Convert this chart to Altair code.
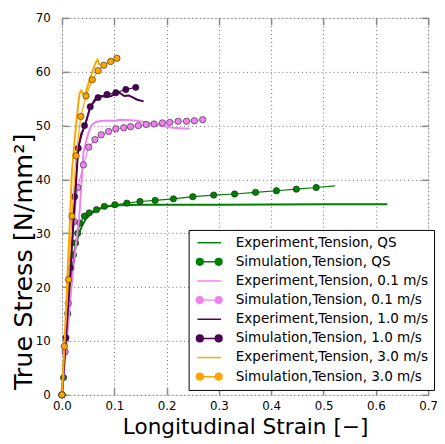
import altair as alt
import pandas as pd

# ---------------- data ----------------
qs_exp_x = [0, 0.005, 0.0126, 0.019, 0.025, 0.031, 0.0375, 0.045, 0.056, 0.07, 0.088, 0.11, 0.15, 0.2, 0.3, 0.4, 0.5, 0.622]
qs_exp_y = [0, 8.0, 21.5, 25.0, 27.0, 29.6, 31.2, 32.6, 33.7, 34.5, 35.0, 35.2, 35.3, 35.3, 35.3, 35.35, 35.4, 35.4]

qs_sim_x = [0, 0.003, 0.011, 0.022, 0.026, 0.030, 0.034, 0.043, 0.052, 0.066, 0.081, 0.101, 0.124, 0.149,
            0.178, 0.213, 0.25, 0.29, 0.33, 0.37, 0.41, 0.448, 0.486, 0.522]
qs_sim_y = [0, 3.2, 15.1, 26.0, 28.2, 30.0, 31.9, 33.2, 33.8, 34.4, 35.0, 35.3, 35.6, 35.9,
            36.1, 36.4, 36.8, 37.1, 37.3, 37.6, 37.9, 38.2, 38.5, 38.8]
qs_sim_marker = [True] * 23 + [False]

v01_exp_x = [0, 0.01, 0.02, 0.028, 0.033, 0.037, 0.041, 0.05, 0.056, 0.063, 0.075, 0.088, 0.1, 0.113,
             0.13, 0.144, 0.165, 0.188, 0.21, 0.244]
v01_exp_y = [0, 11.0, 22.0, 29.0, 33.0, 39.0, 45.0, 48.5, 50.0, 50.6, 50.9, 50.9, 50.9, 51.1,
             51.0, 50.9, 50.5, 50.0, 49.6, 49.4]

v01_sim_x = [0, 0.006, 0.012, 0.017, 0.023, 0.030, 0.041, 0.051, 0.063, 0.075, 0.089, 0.103, 0.118,
             0.131, 0.146, 0.161, 0.176, 0.192, 0.206, 0.222, 0.238, 0.253, 0.269]
v01_sim_y = [0, 8.0, 17.0, 25.0, 32.2, 38.5, 42.7, 46.0, 47.4, 48.3, 48.9, 49.4, 49.6,
             49.8, 50.0, 50.2, 50.3, 50.5, 50.6, 50.8, 50.8, 50.9, 51.1]

v10_exp_x = [0, 0.01, 0.02, 0.026, 0.031, 0.037, 0.044, 0.053, 0.063, 0.075, 0.085, 0.094, 0.102,
             0.11, 0.119, 0.128, 0.136, 0.144, 0.156]
v10_exp_y = [0, 14.0, 29.0, 38.0, 45.8, 48.5, 50.0, 53.1, 54.9, 55.5, 55.3, 55.5, 55.9,
             56.1, 55.5, 55.6, 55.2, 54.8, 54.5]

v10_sim_x = [0, 0.0075, 0.016, 0.024, 0.031, 0.043, 0.054, 0.069, 0.086, 0.103, 0.122, 0.141]
v10_sim_y = [0, 10.6, 23.6, 36.8, 45.8, 50.0, 53.5, 55.2, 55.8, 56.1, 56.7, 57.1]

v30_exp_x = [0, 0.005, 0.01, 0.015, 0.019, 0.024, 0.028, 0.031, 0.034, 0.037, 0.041, 0.044, 0.048,
             0.053, 0.058, 0.063, 0.066, 0.068, 0.072]
v30_exp_y = [0, 10.0, 21.0, 32.0, 41.5, 47.0, 51.2, 54.0, 56.1, 56.5, 55.8, 55.5, 57.0,
             58.5, 60.0, 61.4, 62.0, 62.2, 61.2]

v30_sim_x = [0, 0.0045, 0.0126, 0.019, 0.027, 0.036, 0.046, 0.058, 0.069, 0.08, 0.093, 0.105]
v30_sim_y = [0, 9.0, 21.4, 33.2, 44.4, 51.7, 55.5, 58.5, 60.2, 61.2, 61.9, 62.5]

series_names = [
    "Experiment,Tension, QS",
    "Simulation,Tension, QS",
    "Experiment,Tension, 0.1 m/s",
    "Simulation,Tension, 0.1 m/s",
    "Experiment,Tension, 1.0 m/s",
    "Simulation,Tension, 1.0 m/s",
    "Experiment,Tension, 3.0 m/s",
    "Simulation,Tension, 3.0 m/s",
]
series_colors = ["#008000", "#008000", "#EE82EE", "#EE82EE",
                 "#4B0055", "#4B0055", "#FFA500", "#FFA500"]

x_ticks = [0.0, 0.1, 0.2, 0.3, 0.4, 0.5, 0.6, 0.7]
y_ticks = [0, 10, 20, 30, 40, 50, 60, 70]

# ---------------- table ----------------
series_data = [
    (qs_exp_x, qs_exp_y, None),
    (qs_sim_x, qs_sim_y, qs_sim_marker),
    (v01_exp_x, v01_exp_y, None),
    (v01_sim_x, v01_sim_y, None),
    (v10_exp_x, v10_exp_y, None),
    (v10_sim_x, v10_sim_y, None),
    (v30_exp_x, v30_exp_y, None),
    (v30_sim_x, v30_sim_y, None),
]
rows = []
for name, (xs, ys, mk) in zip(series_names, series_data):
    for i, (xv, yv) in enumerate(zip(xs, ys)):
        rows.append({"x": xv, "y": yv, "series": name,
                     "marker": bool(mk[i]) if mk is not None else True})
df = pd.DataFrame(rows)

W, H = 373, 384
FONT = "DejaVu Sans"

xs_scale = alt.Scale(domain=[0, 0.7], nice=False, zero=False)
ys_scale = alt.Scale(domain=[0, 70], nice=False, zero=False)

base = alt.Chart(df)

# main axes (labels + dotted grid)
ax_main = base.transform_filter("false").mark_point().encode(
    x=alt.X("x:Q", scale=xs_scale, axis=alt.Axis(
        orient="bottom", values=x_ticks, format=".1f", ticks=False, tickSize=0, domain=False,
        grid=True, gridColor="#666", gridDash=[1, 3], gridWidth=1,
        labelFontSize=12, labelPadding=6, labelFlush=False, labelOverlap=False,
        title="Longitudinal Strain [\u2212]", titleFontSize=22, titleFontWeight="normal",
        titleBaseline="alphabetic", titleY=39)),
    y=alt.Y("y:Q", scale=ys_scale, axis=alt.Axis(
        orient="left", values=y_ticks, ticks=False, tickSize=0, domain=False,
        grid=True, gridColor="#666", gridDash=[1, 3], gridWidth=1,
        labelFontSize=12, labelPadding=12, labelFlush=False, labelOverlap=False,
        title="True Stress [N/mm\u00b2]", titleFontSize=26, titleFontWeight="normal",
        titleBaseline="alphabetic", titleX=-31, titleY=248)),
)
# inward ticks: bottom edge and left edge
ax_in1 = base.transform_filter("false").mark_point().encode(
    x=alt.X("x:Q", scale=xs_scale, axis=alt.Axis(
        orient="top", offset=-H, values=x_ticks, labels=False, domain=False, grid=False,
        ticks=True, tickSize=7, tickWidth=1.5, title=None)),
    y=alt.Y("y:Q", scale=ys_scale, axis=alt.Axis(
        orient="right", offset=-W, values=y_ticks, labels=False, domain=False, grid=False,
        ticks=True, tickSize=7, tickWidth=1.5, title=None)),
)
# inward ticks: top edge and right edge
ax_in2 = base.transform_filter("false").mark_point().encode(
    x=alt.X("x:Q", scale=xs_scale, axis=alt.Axis(
        orient="bottom", offset=-H, values=x_ticks, labels=False, domain=False, grid=False,
        ticks=True, tickSize=7, tickWidth=1.5, title=None)),
    y=alt.Y("y:Q", scale=ys_scale, axis=alt.Axis(
        orient="left", offset=-W, values=y_ticks, labels=False, domain=False, grid=False,
        ticks=True, tickSize=7, tickWidth=1.5, title=None)),
)

layers = [ax_main, ax_in1, ax_in2]
for name, color in zip(series_names, series_colors):
    sub = base.transform_filter(alt.datum.series == name)
    enc = dict(x=alt.X("x:Q", scale=xs_scale, axis=None),
               y=alt.Y("y:Q", scale=ys_scale, axis=None),
               order=alt.Order("x:Q"))
    if name.startswith("Experiment"):
        layers.append(sub.mark_line(color=color, strokeWidth=2).encode(**enc))
    else:
        layers.append(sub.mark_line(color=color, strokeWidth=1.2).encode(**enc))
        layers.append(sub.transform_filter(alt.datum.marker).mark_circle(
            fill=color, stroke="#222", strokeWidth=0.6, size=42,
            opacity=1, fillOpacity=1).encode(
            x=alt.X("x:Q", scale=xs_scale, axis=None),
            y=alt.Y("y:Q", scale=ys_scale, axis=None)))

# legend layer (no marks drawn, only the legend)
line_path = "M-2,0L2,0"
dot_path = ("M-2,0L2,0"
            "M-2.17,0A0.57,0.57,0,1,0,-1.03,0A0.57,0.57,0,1,0,-2.17,0Z"
            "M1.03,0A0.57,0.57,0,1,0,2.17,0A0.57,0.57,0,1,0,1.03,0Z")
shape_range = [line_path if n.startswith("Experiment") else dot_path for n in series_names]

leg = alt.Legend(title=None, orient="none", legendX=129, legendY=216, direction="vertical",
                 symbolSize=144, symbolOffset=8, symbolStrokeWidth=1.5, symbolOpacity=1,
                 labelFontSize=13.8, labelFont=FONT,
                 labelColor="black", labelOffset=20, labelLimit=400, padding=6, rowPadding=5.5,
                 strokeColor="black", fillColor="white")

legend_layer = base.transform_filter("false").mark_point(opacity=1).encode(
    x=alt.X("x:Q", scale=xs_scale, axis=None),
    y=alt.Y("y:Q", scale=ys_scale, axis=None),
    fill=alt.Fill("series:N", scale=alt.Scale(domain=series_names, range=series_colors), legend=leg),
    stroke=alt.Stroke("series:N", scale=alt.Scale(domain=series_names, range=series_colors), legend=leg),
    shape=alt.Shape("series:N", scale=alt.Scale(domain=series_names, range=shape_range), legend=leg),
)
layers.append(legend_layer)

chart = alt.layer(*layers).resolve_axis(x="independent", y="independent").properties(
    width=W, height=H,
    autosize=alt.AutoSizeParams(type="none"),
    padding={"left": 55, "top": 6, "right": 9, "bottom": 46},
).configure_view(stroke="black", strokeWidth=1.5, fill="white").configure_axis(
    labelFont=FONT, titleFont=FONT, labelColor="black", titleColor="black",
    titleFontWeight="normal", tickColor="black"
).configure(font=FONT)

chart.save("out.html", embed_options={"renderer": "svg", "actions": False})
